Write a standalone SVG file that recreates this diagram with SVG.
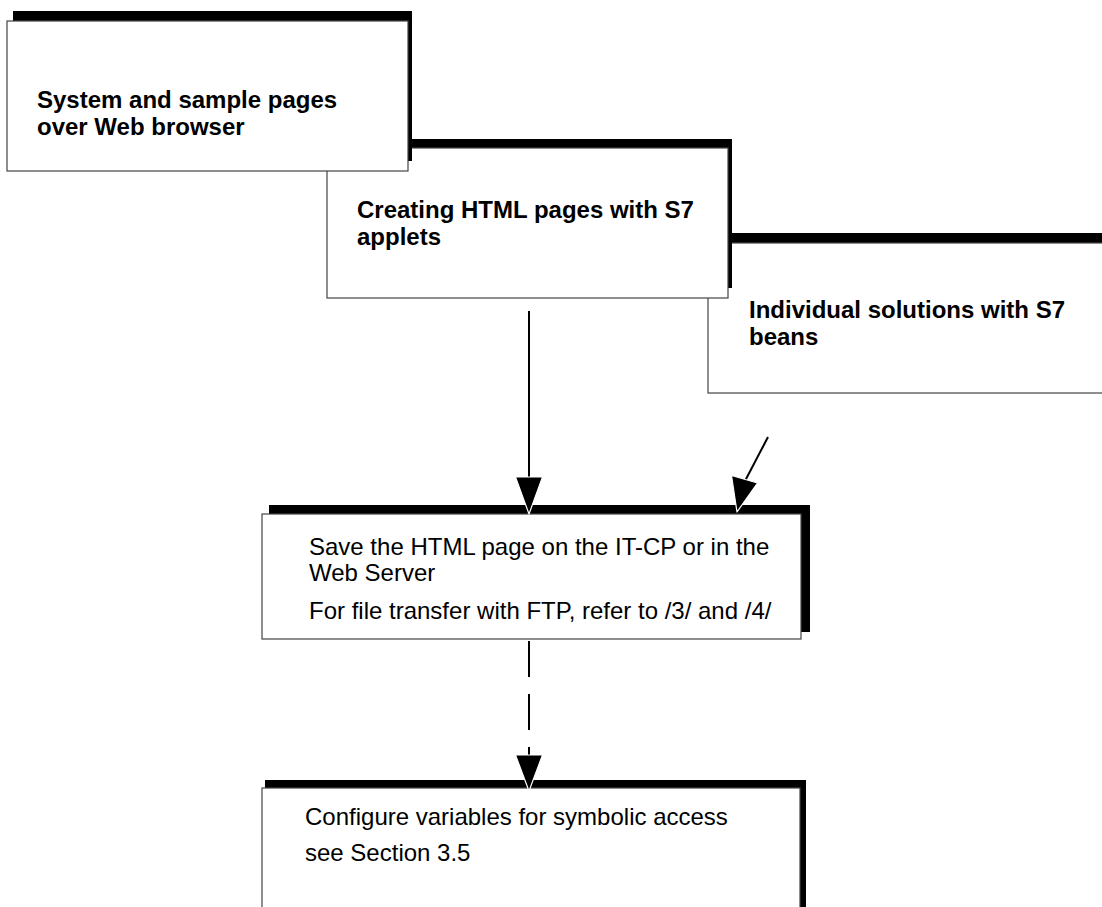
<svg xmlns="http://www.w3.org/2000/svg" width="1102" height="907" viewBox="0 0 1102 907">
<defs>
<style>
.sh{fill:#000}
.bx{fill:#fff;stroke:#444;stroke-width:1.2}
.tb{font-family:"Liberation Sans",Arial,sans-serif;font-weight:bold;font-size:24px;fill:#000}
.tr{font-family:"Liberation Sans",Arial,sans-serif;font-size:24px;fill:#000}
.ln{stroke:#000;stroke-width:2;fill:none}
.ah{fill:#000;stroke:#fff;stroke-width:1.2;stroke-linejoin:round}
</style>
</defs>
<rect width="1102" height="907" fill="#fff"/>
<g id="node3">
<rect class="sh" x="714" y="233" width="400" height="150"/>
<rect class="bx" x="708" y="243" width="410" height="150"/>
<text class="tb" x="749" y="318">Individual solutions with S7</text>
<text class="tb" x="749" y="345">beans</text>
</g>
<g id="node2">
<rect class="sh" x="333" y="139" width="399" height="149"/>
<rect class="bx" x="327" y="148" width="401" height="150"/>
<text class="tb" x="357" y="218">Creating HTML pages with S7</text>
<text class="tb" x="357" y="245">applets</text>
</g>
<g id="node1">
<rect class="sh" x="13" y="11" width="399" height="150"/>
<rect class="bx" x="7" y="21" width="401" height="150"/>
<text class="tb" x="37" y="108">System and sample pages</text>
<text class="tb" x="37" y="135">over Web browser</text>
</g>
<g id="node4">
<rect class="sh" x="269" y="505" width="541" height="127"/>
<rect class="bx" x="262" y="514" width="539" height="125"/>
<text class="tr" x="309" y="555">Save the HTML page on the IT-CP or in the</text>
<text class="tr" x="309" y="581">Web Server</text>
<text class="tr" x="309" y="619">For file transfer with FTP, refer to /3/ and /4/</text>
</g>
<g id="node5">
<rect class="sh" x="265" y="780" width="541" height="140"/>
<rect class="bx" x="262" y="788" width="538" height="130"/>
<text class="tr" x="305" y="825">Configure variables for symbolic access</text>
<text class="tr" x="305" y="861">see Section 3.5</text>
</g>
<g id="connectors">
<line class="ln" x1="529" y1="311" x2="529" y2="482"/>
<polygon class="ah" points="515.5,477 542.5,477 529,514"/>
<line class="ln" x1="768" y1="437" x2="745" y2="481"/>
<polygon class="ah" points="731.5,475.5 757.5,483 737,512"/>
<line class="ln" x1="529" y1="641" x2="529" y2="760" stroke-dasharray="36 17"/>
<polygon class="ah" points="515.5,755 542.5,755 529,791"/>
</g>
</svg>
